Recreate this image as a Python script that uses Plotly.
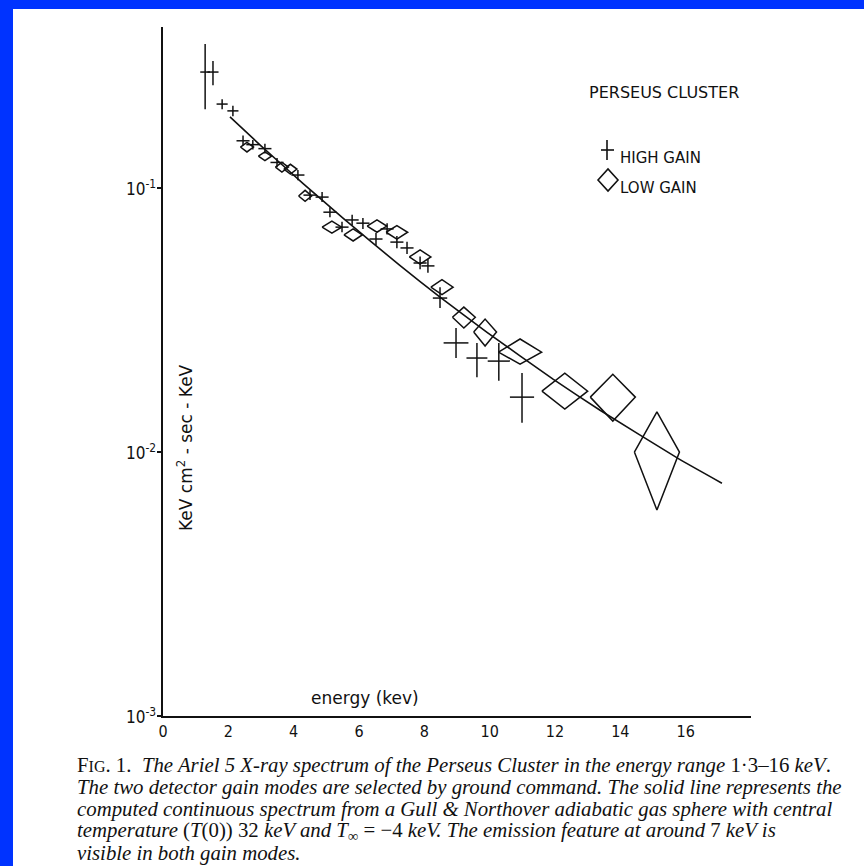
import math
import plotly.graph_objects as go

# ---- data -------------------------------------------------------------
# High gain mode: energy (keV), flux, lower/upper flux bounds, energy half-width
hg_energy = [1.29, 1.53, 1.81, 2.14, 2.45, 2.75, 3.12, 3.49, 4.13, 4.50, 4.87, 5.11, 5.48,
             5.79, 6.12, 6.52, 6.86, 7.16, 7.47, 7.87, 8.11, 8.48, 8.97, 9.61, 10.28, 10.99]
hg_flux = [0.275, 0.275, 0.208, 0.196, 0.151, 0.146, 0.141, 0.125, 0.112, 0.094, 0.0924, 0.081, 0.0711,
           0.0757, 0.0736, 0.0641, 0.070, 0.0624, 0.0593, 0.052, 0.0507, 0.0383, 0.0259, 0.0227, 0.0221, 0.01614]
hg_lo = [0.199, 0.245, 0.199, 0.187, 0.145, 0.140, 0.135, 0.120, 0.107, 0.090, 0.0885, 0.0775, 0.068,
         0.0722, 0.070, 0.0608, 0.0667, 0.0592, 0.0562, 0.0492, 0.0478, 0.0351, 0.0227, 0.0192, 0.0186, 0.0129]
hg_hi = [0.351, 0.303, 0.217, 0.205, 0.158, 0.152, 0.147, 0.130, 0.117, 0.098, 0.0965, 0.0845, 0.0745,
         0.0792, 0.077, 0.0676, 0.0735, 0.0658, 0.0626, 0.055, 0.0538, 0.0421, 0.0295, 0.0259, 0.0259, 0.0199]
hg_de = [0.15, 0.17, 0.17, 0.17, 0.2, 0.2, 0.2, 0.2, 0.2, 0.2, 0.2, 0.2, 0.2,
         0.2, 0.2, 0.2, 0.2, 0.2, 0.2, 0.2, 0.2, 0.22, 0.38, 0.32, 0.34, 0.37]

# Low gain mode
lg_energy = [2.57, 3.12, 3.64, 3.90, 4.35, 5.17, 5.82, 6.55, 7.16, 7.87, 8.54, 9.21, 9.86,
             10.93, 12.3, 13.77, 15.12]
lg_flux = [0.143, 0.132, 0.120, 0.118, 0.0933, 0.0711, 0.0664, 0.0718, 0.068, 0.0548, 0.0421, 0.0324, 0.0285,
           0.0239, 0.0170, 0.01614, 0.0100]
lg_lo = [0.137, 0.127, 0.115, 0.113, 0.089, 0.0675, 0.063, 0.068, 0.064, 0.0515, 0.0395, 0.0295, 0.0252,
         0.0215, 0.01455, 0.0131, 0.00603]
lg_hi = [0.149, 0.137, 0.125, 0.123, 0.098, 0.075, 0.070, 0.0758, 0.072, 0.0583, 0.045, 0.0354, 0.0319,
         0.0268, 0.0199, 0.0197, 0.01419]
lg_de = [0.2, 0.2, 0.2, 0.2, 0.2, 0.3, 0.28, 0.3, 0.33, 0.33, 0.34, 0.35, 0.35,
         0.66, 0.70, 0.69, 0.69]

# Computed continuum (Gull & Northover adiabatic sphere)
model_energy = [2.05, 3.0, 4.29, 5.51, 7.25, 8.48, 9.92, 11.94, 13.38, 15.79, 17.11]
model_flux = [0.186, 0.1445, 0.104, 0.0769, 0.0509, 0.0386, 0.0284, 0.01888, 0.01439, 0.00942, 0.00762]

x_ticks = [0, 2, 4, 6, 8, 10, 12, 14, 16]
y_ticks = [1e-3, 1e-2, 1e-1]
y_ticktext = ["10<sup>-3</sup>", "10<sup>-2</sup>", "10<sup>-1</sup>"]

caption_lines = [
    "F<span style='font-size:16px'>IG</span>. 1.  <i>The Ariel 5 X-ray spectrum of the Perseus Cluster in the energy range</i> 1·3–16 <i>keV</i>.",
    "<i>The two detector gain modes are selected by ground command. The solid line represents the</i>",
    "<i>computed continuous spectrum from a Gull &amp; Northover adiabatic gas sphere with central</i>",
    "<i>temperature</i> (<i>T</i>(0)) 32 <i>keV and T</i><sub>∞</sub> = −4 <i>keV. The emission feature at around</i> 7 <i>keV is</i>",
    "<i>visible in both gain modes.</i>",
]

# ---- layout geometry (pixels) -----------------------------------------
W, H = 864, 866
ML, MR, MT, MB = 163, 113, 27, 150
PW, PH = W - ML - MR, H - MT - MB


def px(x):
    return (x - ML) / PW


def py(y):
    return (H - MB - y) / PH


INK = "#111111"
NARROW = "DejaVu Sans Condensed, Liberation Sans Narrow, DejaVu Sans, sans-serif"
SANS = "DejaVu Sans, sans-serif"

fig = go.Figure()

# model curve
fig.add_trace(go.Scatter(
    x=model_energy, y=model_flux, mode="lines",
    line=dict(color=INK, width=1.6, shape="spline", smoothing=0.4),
    hoverinfo="skip", showlegend=False,
))

# low gain diamonds: horizontal vertices = energy bin, vertical vertices = flux range
dx, dy = [], []
for e, f, lo, hi, de in zip(lg_energy, lg_flux, lg_lo, lg_hi, lg_de):
    dx += [e - de, e, e + de, e, e - de, None]
    dy += [f, hi, f, lo, f, None]
fig.add_trace(go.Scatter(
    x=dx, y=dy, mode="lines", line=dict(color=INK, width=1.5),
    hoverinfo="skip", showlegend=False,
))

# high gain crosses
fig.add_trace(go.Scatter(
    x=hg_energy, y=hg_flux, mode="markers",
    marker=dict(size=1, color="rgba(0,0,0,0)"),
    error_x=dict(type="data", array=hg_de, width=0, thickness=1.5, color=INK),
    error_y=dict(type="data", symmetric=False,
                 array=[h - f for h, f in zip(hg_hi, hg_flux)],
                 arrayminus=[f - l for f, l in zip(hg_flux, hg_lo)],
                 width=0, thickness=1.5, color=INK),
    hoverinfo="skip", showlegend=False,
))

fig.update_xaxes(
    range=[0, 18], showline=True, linecolor=INK, linewidth=2,
    showgrid=False, zeroline=False, ticks="",
    tickvals=x_ticks, ticktext=[str(t) for t in x_ticks],
    tickfont=dict(family=NARROW, size=16, color=INK),
)
fig.update_yaxes(
    type="log", range=[-3, -0.39], showline=True, linecolor=INK, linewidth=2,
    showgrid=False, zeroline=False, ticks="outside", ticklen=4, tickwidth=1.5, tickcolor=INK,
    tickvals=y_ticks, showticklabels=False,
)

annotations = [
    dict(text="energy (kev)", x=px(365), y=py(698), font=dict(family=SANS, size=17, color=INK)),
    dict(text="KeV cm<sup>2</sup> - sec - KeV", x=px(185), y=py(448), textangle=-90,
         font=dict(family=SANS, size=17, color=INK)),
    dict(text="PERSEUS CLUSTER", x=px(664), y=py(93), font=dict(family=SANS, size=16, color=INK)),
    dict(text="HIGH GAIN", x=px(618), y=py(158), xanchor="left", font=dict(family=SANS, size=15, color=INK)),
    dict(text="LOW GAIN", x=px(618), y=py(188), xanchor="left", font=dict(family=SANS, size=15, color=INK)),
]
# decade labels beside the y axis, placed on the axis's own log scale
for v, t in zip(y_ticks, y_ticktext):
    annotations.append(dict(
        text=t, x=px(158), xanchor="right", y=math.log10(v), yref="y", yanchor="middle",
        font=dict(family=NARROW, size=17, color=INK),
    ))
for i, line in enumerate(caption_lines):
    annotations.append(dict(
        text=line, x=px(75), y=py(765 + 22 * i), xanchor="left",
        font=dict(family="Liberation Serif, serif", size=20.8, color=INK),
    ))
for a in annotations:
    a.setdefault("xanchor", "center")
    a.setdefault("yref", "paper")
    a.update(xref="paper", yanchor="middle", showarrow=False)

shapes = [
    # legend symbols
    dict(type="line", x0=px(607), x1=px(607), y0=py(140), y1=py(160)),
    dict(type="line", x0=px(601), x1=px(614), y0=py(150), y1=py(150)),
    dict(type="path", path=f"M {px(598)} {py(180)} L {px(608)} {py(169)} L {px(618)} {py(180)} "
                           f"L {px(608)} {py(191)} Z"),
]
for s in shapes:
    s.update(xref="paper", yref="paper", line=dict(color=INK, width=1.6))
# blue page frame along the top and left edges
shapes += [
    dict(type="rect", xref="paper", yref="paper", x0=px(0), x1=px(13), y0=py(0), y1=py(H),
         fillcolor="#0033ff", line=dict(width=0), layer="above"),
    dict(type="rect", xref="paper", yref="paper", x0=px(0), x1=px(W), y0=py(0), y1=py(9),
         fillcolor="#0033ff", line=dict(width=0), layer="above"),
]

fig.update_layout(
    width=W, height=H, margin=dict(l=ML, r=MR, t=MT, b=MB),
    paper_bgcolor="white", plot_bgcolor="white",
    annotations=annotations, shapes=shapes, showlegend=False,
)

fig.write_html("out.html")
